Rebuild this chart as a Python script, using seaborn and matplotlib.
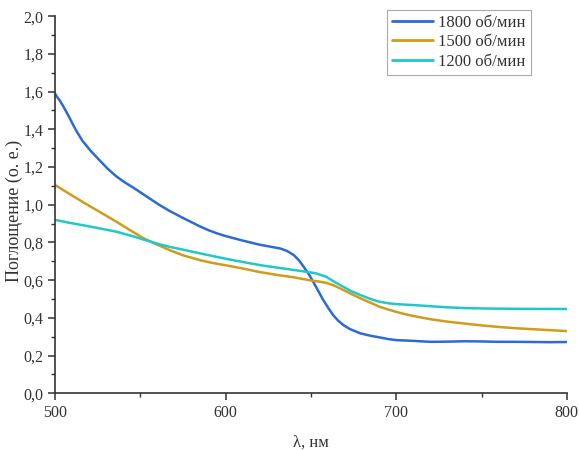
import matplotlib
matplotlib.use("Agg")
import matplotlib.pyplot as plt
from matplotlib.ticker import MultipleLocator, FuncFormatter
import seaborn as sns
import pandas as pd

# Absorption spectra of films spin-coated at different speeds
wl_1800 = [500, 501, 503, 505, 508, 512, 516, 521, 526, 531, 536, 541, 546, 551,
           556, 561, 567, 575, 585, 590, 595, 600, 605, 610, 615, 620, 626, 632,
           636, 640, 643, 646, 649, 651, 654, 657, 660, 663, 666, 669, 673, 679,
           685, 690, 695, 700, 710, 720, 730, 740, 750, 760, 770, 780, 790, 800]
abs_1800 = [1.59, 1.575, 1.55, 1.52, 1.47, 1.40, 1.34, 1.285, 1.237, 1.19, 1.15,
            1.118, 1.09, 1.06, 1.03, 1.0, 0.968, 0.93, 0.885, 0.865, 0.848, 0.834,
            0.822, 0.81, 0.799, 0.788, 0.778, 0.768, 0.755, 0.733, 0.705, 0.668,
            0.628, 0.597, 0.548, 0.498, 0.455, 0.415, 0.385, 0.362, 0.34, 0.318,
            0.305, 0.297, 0.288, 0.282, 0.278, 0.273, 0.274, 0.276, 0.275, 0.273,
            0.273, 0.272, 0.271, 0.272]

wl_1500 = [500, 508, 516, 526, 536, 544, 552, 560, 567, 575, 585, 592, 600, 610,
           620, 630, 640, 649, 655, 659, 664, 669, 674, 679, 685, 690, 695, 700,
           705, 710, 720, 730, 740, 750, 760, 770, 780, 790, 800]
abs_1500 = [1.105, 1.06, 1.016, 0.963, 0.91, 0.865, 0.822, 0.788, 0.76, 0.732,
            0.706, 0.692, 0.679, 0.662, 0.643, 0.628, 0.615, 0.60, 0.592, 0.586,
            0.57, 0.548, 0.525, 0.504, 0.48, 0.46, 0.445, 0.432, 0.42, 0.41,
            0.393, 0.38, 0.37, 0.36, 0.352, 0.345, 0.34, 0.335, 0.33]

wl_1200 = [500, 508, 516, 526, 536, 546, 552, 561, 567, 575, 585, 602, 620, 630,
           640, 647, 653, 659, 664, 669, 674, 679, 685, 690, 695, 700, 710, 720,
           730, 740, 750, 770, 800]
abs_1200 = [0.92, 0.905, 0.892, 0.875, 0.857, 0.832, 0.815, 0.791, 0.777, 0.762,
            0.742, 0.71, 0.68, 0.667, 0.654, 0.645, 0.636, 0.618, 0.59, 0.565,
            0.54, 0.521, 0.50, 0.486, 0.478, 0.473, 0.468, 0.462, 0.456, 0.452,
            0.45, 0.448, 0.447]

labels = ["1800 об/мин", "1500 об/мин", "1200 об/мин"]
colors = ["#2B6BD3", "#CF9C1B", "#22C8C8"]

frames = []
for lab, w, a in zip(labels, [wl_1800, wl_1500, wl_1200], [abs_1800, abs_1500, abs_1200]):
    frames.append(pd.DataFrame({"wl": w, "abs": a, "speed": lab}))
df = pd.concat(frames, ignore_index=True)

sns.set_style("ticks")
plt.rcParams["font.family"] = ["Liberation Serif", "DejaVu Serif"]
plt.rcParams["axes.edgecolor"] = "#333333"

fig = plt.figure(figsize=(5.79, 4.5), dpi=100)
ax = fig.add_axes([0.095, 0.126, 0.884, 0.838])

sns.lineplot(data=df, x="wl", y="abs", hue="speed", hue_order=labels,
             palette=colors, linewidth=1.8, ax=ax, legend=False, sort=True,
             estimator=None)

ax.set_xlim(500, 800)
ax.set_ylim(0, 2.0)
ax.xaxis.set_major_locator(MultipleLocator(100))
ax.xaxis.set_minor_locator(MultipleLocator(50))
ax.yaxis.set_major_locator(MultipleLocator(0.2))
ax.yaxis.set_minor_locator(MultipleLocator(0.1))
ax.yaxis.set_major_formatter(FuncFormatter(lambda v, p: f"{v:.1f}".replace(".", ",")))
ax.tick_params(which="major", direction="out", length=5, width=1.1,
               labelsize=11.5, colors="#333333", labelcolor="#333333")
ax.tick_params(which="minor", direction="out", length=3, width=1.0, colors="#333333")
for s in ["left", "bottom"]:
    ax.spines[s].set_linewidth(1.2)
sns.despine(ax=ax)

ax.set_xlabel("λ, нм", fontsize=12, color="#333333", labelpad=10)
ax.set_ylabel("Поглощение (о. е.)", fontsize=13, color="#333333")
ax.yaxis.set_label_coords(-0.062, 0.483)

handles = [plt.Line2D([], [], color=c, lw=2.0) for c in colors]
leg = fig.legend(handles, labels, loc="upper right",
                 bbox_to_anchor=(0.917, 0.978), bbox_transform=fig.transFigure,
                 fontsize=12, frameon=True, fancybox=False, framealpha=1,
                 edgecolor="#aaaaaa", handlelength=2.5, handletextpad=0.3,
                 labelspacing=0.2, borderpad=0.3, borderaxespad=0)
leg.get_frame().set_linewidth(0.8)
for t in leg.get_texts():
    t.set_color("#333333")

fig.savefig("out.png", dpi=100)
